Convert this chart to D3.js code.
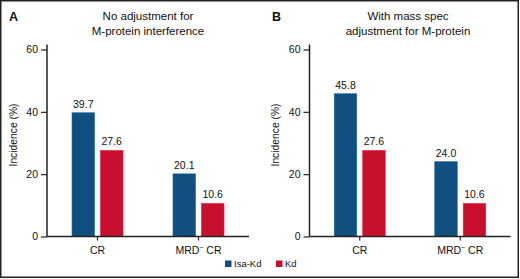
<!DOCTYPE html>
<html>
<head>
<meta charset="utf-8">
<script src="https://cdn.jsdelivr.net/npm/d3@7"></script>
<style>
  body { margin: 0; background: #fff; }
  svg { display: block; font-family: "Liberation Sans", Arial, sans-serif; }
</style>
</head>
<body>
<div id="chart"></div>
<script>
// data
const categories = ["CR", "MRD"];
const series = ["Isa-Kd", "Kd"];
const panelLetters = ["A", "B"];
const panelTitles = [
  ["No adjustment for", "M-protein interference"],
  ["With mass spec", "adjustment for M-protein"]
];
const isaKdA = [39.7, 20.1];
const kdA = [27.6, 10.6];
const isaKdB = [45.8, 24.0];
const kdB = [27.6, 10.6];
const yTicks = [0, 20, 40, 60];
const colors = ["#124f81", "#c8102e"];

const W = 520, H = 279;
const svg = d3.select("#chart").append("svg")
  .attr("width", W).attr("height", H);

svg.append("rect")
  .attr("x", 0.75).attr("y", 0.75)
  .attr("width", 517.5).attr("height", 276.5)
  .attr("fill", "none").attr("stroke", "#222").attr("stroke-width", 1.5);

const panels = [
  { letter: panelLetters[0], title: panelTitles[0], values: [isaKdA, kdA], left: 47, right: 249, letterX: 9, titleX: 148 },
  { letter: panelLetters[1], title: panelTitles[1], values: [isaKdB, kdB], left: 309.5, right: 510.5, letterX: 272, titleX: 408 }
];

const y = d3.scaleLinear().domain([0, 60]).range([236.5, 49.5]);

panels.forEach(p => drawPanel(p));

function drawPanel(p) {
  const g = svg.append("g");

  const x0 = d3.scalePoint().domain(categories).range([p.left, p.right]).padding(0.5);
  const x1 = d3.scaleBand().domain(series).range([-25.5, 25.5]).paddingInner(0.21);

  g.append("text")
    .attr("x", p.letterX).attr("y", 21)
    .attr("font-size", 12.5).attr("font-weight", "bold")
    .attr("fill", "#111")
    .text(p.letter);

  g.append("text")
    .attr("x", p.titleX).attr("y", 20)
    .attr("text-anchor", "middle").attr("font-size", 11.5).attr("fill", "#111")
    .selectAll("tspan")
    .data(p.title)
    .join("tspan")
      .attr("x", p.titleX)
      .attr("dy", (d, i) => i ? 14.5 : 0)
      .text(d => d);

  // y axis
  const yAxis = g.append("g")
    .attr("transform", "translate(" + p.left + ",0)")
    .call(d3.axisLeft(y).tickValues(yTicks).tickSize(6).tickPadding(3));
  yAxis.select(".domain").remove();
  yAxis.selectAll(".tick line").attr("stroke", "#222").attr("stroke-width", 1.2);
  yAxis.selectAll(".tick text").attr("font-size", 10.5).attr("fill", "#111")
    .attr("font-family", "Liberation Sans, Arial, sans-serif");
  g.append("line")
    .attr("x1", p.left).attr("x2", p.left)
    .attr("y1", 44.5).attr("y2", y(0))
    .attr("stroke", "#222").attr("stroke-width", 1.5);

  g.append("text")
    .attr("transform", "translate(" + (p.left - 30.5) + "," + 135 + ") rotate(-90)")
    .attr("text-anchor", "middle").attr("font-size", 10.3).attr("fill", "#111")
    .attr("font-family", "Liberation Sans Narrow, Arial Narrow, sans-serif")
    .text("Incidence (%)");

  // bars
  series.forEach((s, si) => {
    const vals = p.values[si];
    const bars = g.append("g");
    bars.selectAll("rect")
      .data(categories)
      .join("rect")
        .attr("x", c => x0(c) + x1(s))
        .attr("width", x1.bandwidth())
        .attr("y", (c, i) => y(vals[i]))
        .attr("height", (c, i) => y(0) - y(vals[i]))
        .attr("fill", colors[si])
        .attr("stroke", d3.color(colors[si]).brighter(0.8))
        .attr("stroke-width", 0.6);
    bars.selectAll("text")
      .data(categories)
      .join("text")
        .attr("x", c => x0(c) + x1(s) + x1.bandwidth() / 2)
        .attr("y", (c, i) => y(vals[i]) - 5)
        .attr("text-anchor", "middle").attr("font-size", 10.5).attr("fill", "#111")
        .text((c, i) => vals[i].toFixed(1));
  });

  // x axis
  g.append("line")
    .attr("x1", p.left).attr("x2", p.right)
    .attr("y1", y(0)).attr("y2", y(0))
    .attr("stroke", "#222").attr("stroke-width", 1.5);
  categories.forEach(c => {
    g.append("line")
      .attr("x1", x0(c)).attr("x2", x0(c))
      .attr("y1", y(0)).attr("y2", y(0) + 4)
      .attr("stroke", "#222").attr("stroke-width", 1.2);
    const t = g.append("text")
      .attr("x", x0(c)).attr("y", 253.5)
      .attr("text-anchor", "middle").attr("font-size", 10.5).attr("fill", "#111");
    if (c === "MRD") {
      t.append("tspan").text("MRD");
      t.append("tspan").attr("dy", -4).attr("font-size", 7).text("\u2212");
      t.append("tspan").attr("dy", 4).text(" CR");
    } else {
      t.text(c);
    }
  });
}

// legend
const legend = svg.append("g").attr("transform", "translate(225,260.5)");
const legendX = [0, 51];
series.forEach((s, i) => {
  legend.append("rect")
    .attr("x", legendX[i]).attr("y", 0)
    .attr("width", 6.5).attr("height", 6.5)
    .attr("fill", colors[i]);
  legend.append("text")
    .attr("x", legendX[i] + 9).attr("y", 6.8)
    .attr("font-size", 9.5).attr("fill", "#111")
    .text(s);
});
</script>
</body>
</html>
